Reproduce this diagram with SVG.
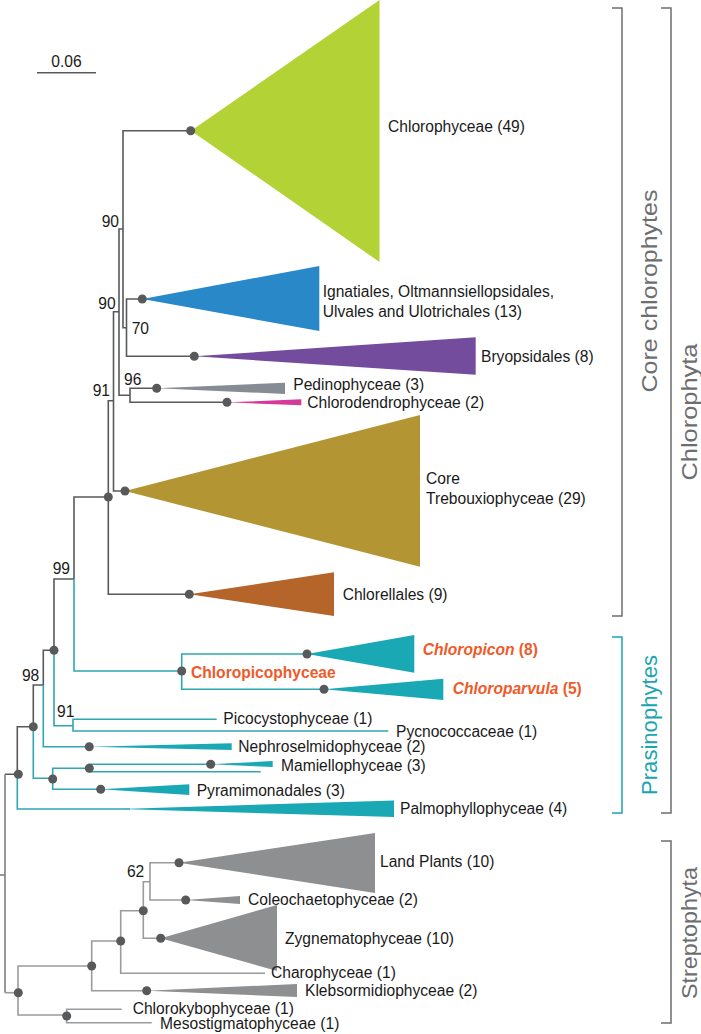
<svg xmlns="http://www.w3.org/2000/svg" width="701" height="1034" viewBox="0 0 701 1034">
<style>
.g{fill:none;stroke:#58595b;stroke-width:1.6}
.t{fill:none;stroke:#2fa7b3;stroke-width:1.6}
.s{fill:none;stroke:#9a9b9d;stroke-width:1.6}
.r{fill:none;stroke:#7d7e80;stroke-width:1.6}
.d{fill:#58595b}
.lb{font-family:"Liberation Sans",Arial,sans-serif;font-size:15.6px;fill:#1a1a1a}
.bs{font-family:"Liberation Sans",Arial,sans-serif;font-size:15.6px;fill:#1a1a1a}
.or{font-family:"Liberation Sans",Arial,sans-serif;font-size:15.6px;font-weight:bold;fill:#ef5a2a}
.br{fill:none;stroke:#6d6e71;stroke-width:1.5}
.bt{fill:none;stroke:#1ba5b1;stroke-width:1.5}
.cl{font-family:"Liberation Sans",Arial,sans-serif;font-size:22px;fill:#6d6e71}
.teal{fill:#1aa8b4}
.sg{fill:#8e8f91}
</style>
<g id="scale">
<line x1="37" y1="72.7" x2="96" y2="72.7" class="g"/>
<text x="66.5" y="67" class="bs" text-anchor="middle" font-size="14">0.06</text>
</g>
<g id="connectors">
<path class="g" d="M190.7,130.7 H123 V327.7 H126.5"/>
<path class="g" d="M142.3,299 H126.5 V356.3 H194.3"/>
<path class="g" d="M123,229 H119 V395.3 H130"/>
<path class="g" d="M156.7,388.3 H130 V402.3 H227"/>
<path class="g" d="M119,311.7 H113.5 V491 H125"/>
<path class="g" d="M113.5,400.7 H108.3 V594.3 H189.3"/>
<path class="g" d="M108.3,497 H74 V579"/>
<path class="g" d="M74,579 H54 V650.3 H43.3 V685 H33.3 V726.7 H17.3 V774.3 H5"/>
<path class="r" d="M5,774.3 V992.7"/>
<path class="r" d="M0,875 H5"/>
<path class="t" d="M74,579 V671 H181.7"/>
<path class="t" d="M307,654 H181.7 V689.3 H324"/>
<path class="t" d="M54,650.3 V725.7 H73"/>
<path class="t" d="M216.7,719.3 H73 V731 H388.3"/>
<path class="t" d="M43.3,685 V746.7 H89.3"/>
<path class="t" d="M33.3,726.7 V778.3 H52.7"/>
<path class="t" d="M89.3,768.3 H52.7 V789.3 H100.7"/>
<path class="t" d="M210.7,764.3 H89.3 V771.7 H260.7"/>
<path class="t" d="M17.3,774.3 V809 H130"/>
<path class="s" d="M5,992.7 H18"/>
<path class="s" d="M91.7,966 H18 V1015 H66.7"/>
<path class="s" d="M121.7,1009.3 H66.7 V1022.7 H151.7"/>
<path class="s" d="M120.7,941 H91.7 V990.7 H146.7"/>
<path class="s" d="M143.3,910.7 H120.7 V973.3 H265"/>
<path class="s" d="M150,881.7 H143.3 V938.3 H160.7"/>
<path class="s" d="M179,862.7 H150 V900 H185.7"/>
</g>
<g id="support">
<text class="bs" x="119" y="227" text-anchor="end">90</text>
<text class="bs" x="115.7" y="308.5" text-anchor="end">90</text>
<text class="bs" x="131.7" y="334">70</text>
<text class="bs" x="124" y="385">96</text>
<text class="bs" x="110" y="395.5" text-anchor="end">91</text>
<text class="bs" x="70" y="573.5" text-anchor="end">99</text>
<text class="bs" x="39.3" y="680.5" text-anchor="end">98</text>
<text class="bs" x="57" y="717">91</text>
<text class="bs" x="144.3" y="877" text-anchor="end">62</text>
</g>
<g id="internal-nodes">
<circle class="d" cx="108.3" cy="497" r="4.5"/>
<circle class="d" cx="54" cy="650.3" r="4.5"/>
<circle class="d" cx="181.7" cy="671" r="4.5"/>
<circle class="d" cx="33.3" cy="726.7" r="4.5"/>
<circle class="d" cx="89.3" cy="768.3" r="4.5"/>
<circle class="d" cx="52.7" cy="779" r="4.5"/>
<circle class="d" cx="18.3" cy="774.3" r="4.5"/>
<circle class="d" cx="18.3" cy="992.7" r="4.5"/>
<circle class="d" cx="66.7" cy="1016" r="4.5"/>
<circle class="d" cx="91.7" cy="966" r="4.5"/>
<circle class="d" cx="120.7" cy="941" r="4.5"/>
<circle class="d" cx="143.3" cy="910.7" r="4.5"/>
</g>
<g id="chlorophyceae">
<polygon points="191,130.7 379.5,0 379.5,262" fill="#b2d235"/>
<circle class="d" cx="190.7" cy="130.7" r="4.5"/>
<text class="lb" x="388" y="132">Chlorophyceae (49)</text>
</g>
<g id="ulvophyceae">
<polygon points="142.3,299 319.3,266 319.3,331" fill="#2888c8"/>
<circle class="d" cx="142.3" cy="299" r="4.5"/>
<text class="lb" x="322.7" y="297">Ignatiales, Oltmannsiellopsidales,</text>
<text class="lb" x="322.7" y="317">Ulvales and Ulotrichales (13)</text>
</g>
<g id="bryopsidales">
<polygon points="194.3,356.3 475.7,337.3 475.7,374.7" fill="#744c9e"/>
<circle class="d" cx="194.3" cy="356.3" r="4.5"/>
<text class="lb" x="481" y="362">Bryopsidales (8)</text>
</g>
<g id="pedinophyceae">
<polygon points="156.7,388.3 285,382.7 285,394" fill="#868c94"/>
<circle class="d" cx="156.7" cy="388.3" r="4.5"/>
<text class="lb" x="293.3" y="390">Pedinophyceae (3)</text>
</g>
<g id="chlorodendrophyceae">
<polygon points="227,402.3 301.3,399.3 301.3,405.3" fill="#d6399c"/>
<circle class="d" cx="227" cy="402.3" r="4.5"/>
<text class="lb" x="307.3" y="408">Chlorodendrophyceae (2)</text>
</g>
<g id="core-trebouxiophyceae">
<polygon points="125,491 420,415 420,566.7" fill="#b39534"/>
<circle class="d" cx="125" cy="491" r="4.5"/>
<text class="lb" x="426" y="484.3">Core</text>
<text class="lb" x="426" y="504.3">Trebouxiophyceae (29)</text>
</g>
<g id="chlorellales">
<polygon points="189.3,594.3 334,572.3 334,616" fill="#b5652a"/>
<circle class="d" cx="189.3" cy="594.3" r="4.5"/>
<text class="lb" x="342.7" y="600">Chlorellales (9)</text>
</g>
<g id="chloropicophyceae">
<text class="or" x="191" y="678.3">Chloropicophyceae</text>
</g>
<g id="chloropicon">
<polygon class="teal" points="307,654 414.3,635 414.3,672.7"/>
<circle class="d" cx="307" cy="654" r="4.5"/>
<text class="or" x="422.7" y="655"><tspan font-style="italic">Chloropicon</tspan> (8)</text>
</g>
<g id="chloroparvula">
<polygon class="teal" points="324,689.3 443.3,678.7 443.3,700"/>
<circle class="d" cx="324" cy="689.3" r="4.5"/>
<text class="or" x="452.7" y="693.5"><tspan font-style="italic">Chloroparvula</tspan> (5)</text>
</g>
<g id="picocystophyceae">
<text class="lb" x="223.3" y="724">Picocystophyceae (1)</text>
</g>
<g id="pycnococcaceae">
<text class="lb" x="396" y="737">Pycnococcaceae (1)</text>
</g>
<g id="nephroselmidophyceae">
<polygon class="teal" points="89.3,746.7 231.7,743.3 231.7,750"/>
<circle class="d" cx="89.3" cy="746.7" r="4.5"/>
<text class="lb" x="238.3" y="752">Nephroselmidophyceae (2)</text>
</g>
<g id="mamiellophyceae">
<polygon class="teal" points="210.7,764.3 272.7,761 272.7,767"/>
<circle class="d" cx="210.7" cy="764.3" r="4.5"/>
<text class="lb" x="281" y="771">Mamiellophyceae (3)</text>
</g>
<g id="pyramimonadales">
<polygon class="teal" points="100.7,789.3 189.3,784.3 189.3,795"/>
<circle class="d" cx="100.7" cy="789.3" r="4.5"/>
<text class="lb" x="196.7" y="795.5">Pyramimonadales (3)</text>
</g>
<g id="palmophyllophyceae">
<polygon class="teal" points="120,809 394,800.5 394,817"/>
<text class="lb" x="400" y="814">Palmophyllophyceae (4)</text>
</g>
<g id="land-plants">
<polygon class="sg" points="179,862.7 375,833 375,893"/>
<circle class="d" cx="179" cy="862.7" r="4.5"/>
<text class="lb" x="380" y="867">Land Plants (10)</text>
</g>
<g id="coleochaetophyceae">
<polygon class="sg" points="185.7,900 240,896 240,904"/>
<circle class="d" cx="185.7" cy="900" r="4.5"/>
<text class="lb" x="248" y="905">Coleochaetophyceae (2)</text>
</g>
<g id="zygnematophyceae">
<polygon class="sg" points="160.7,938.3 277,905 277,971"/>
<circle class="d" cx="160.7" cy="938.3" r="4.5"/>
<text class="lb" x="285" y="944">Zygnematophyceae (10)</text>
</g>
<g id="charophyceae">
<text class="lb" x="271" y="978">Charophyceae (1)</text>
</g>
<g id="klebsormidiophyceae">
<polygon class="sg" points="146.7,990.7 297,984 297,997"/>
<circle class="d" cx="146.7" cy="990.7" r="4.5"/>
<text class="lb" x="305" y="996">Klebsormidiophyceae (2)</text>
</g>
<g id="chlorokybophyceae">
<text class="lb" x="132.7" y="1013.5">Chlorokybophyceae (1)</text>
</g>
<g id="mesostigmatophyceae">
<text class="lb" x="160" y="1028.5">Mesostigmatophyceae (1)</text>
</g>
<g id="brackets">
<path class="br" d="M612,8 H622 V616 H612"/>
<path class="br" d="M661,8 H671 V813 H661"/>
<path class="bt" d="M612,637 H622 V813 H612"/>
<path class="br" d="M661,841 H671 V1023 H661"/>
<text class="cl" transform="translate(657,291) rotate(-90)" text-anchor="middle" textLength="203" lengthAdjust="spacingAndGlyphs">Core chlorophytes</text>
<text class="cl" transform="translate(697,412) rotate(-90)" text-anchor="middle" textLength="137" lengthAdjust="spacingAndGlyphs">Chlorophyta</text>
<text class="cl" transform="translate(657,725) rotate(-90)" text-anchor="middle" textLength="140" lengthAdjust="spacingAndGlyphs" fill="#1ba5b1" style="fill:#1ba5b1">Prasinophytes</text>
<text class="cl" transform="translate(697,933) rotate(-90)" text-anchor="middle" textLength="132" lengthAdjust="spacingAndGlyphs">Streptophyta</text>
</g>
</svg>
